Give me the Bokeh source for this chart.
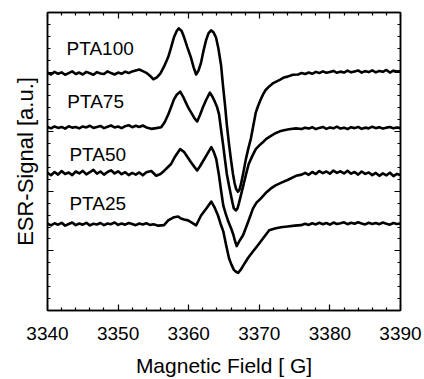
from bokeh.plotting import figure
from bokeh.models import Label, LinearAxis, FixedTicker, Range1d, Title
from bokeh.embed import file_html
from bokeh.resources import INLINE

# ---------------- data ----------------
field_pta100 = [3340.0, 3340.5, 3341.0, 3341.5, 3342.0, 3342.5, 3343.0, 3343.5, 3344.0, 3344.5,
                3345.0, 3345.5, 3346.0, 3346.5, 3347.0, 3347.5, 3348.0, 3348.5, 3349.0, 3349.5,
                3350.0, 3350.5, 3351.0, 3351.5, 3352.0, 3352.5, 3353.0, 3353.5, 3354.0, 3354.5,
                3355.0, 3355.5, 3356.0, 3356.5, 3357.1, 3357.5, 3357.9, 3358.3, 3358.6, 3359.0,
                3359.35, 3359.8, 3360.3, 3360.7, 3361.05, 3361.4, 3361.75, 3362.1, 3362.46, 3362.8,
                3363.16, 3363.5, 3363.87, 3364.2, 3364.58, 3364.85, 3365.14, 3365.4, 3365.71, 3366.0,
                3366.27, 3366.5, 3366.7, 3366.98, 3367.2, 3367.4, 3367.75, 3368.1, 3368.45, 3368.8,
                3369.15, 3369.5, 3369.85, 3370.2, 3370.55, 3370.9, 3371.4, 3371.9, 3372.4, 3372.9,
                3373.5, 3374.0, 3374.75, 3375.5, 3376.0, 3376.5, 3377.0, 3377.5, 3378.0, 3378.5,
                3379.0, 3379.5, 3380.0, 3380.5, 3381.0, 3381.5, 3382.0, 3382.5, 3383.0, 3383.5,
                3384.0, 3384.5, 3385.0, 3385.5, 3386.0, 3386.5, 3387.0, 3387.5, 3388.0, 3388.5,
                3389.0, 3389.5, 3390.0]
signal_pta100 = [19.95, 19.80, 20.02, 19.86, 19.98, 19.78, 19.92, 20.06, 19.84, 19.96,
                 19.80, 20.02, 19.90, 19.78, 20.00, 19.88, 19.84, 20.06, 19.92, 19.80,
                 19.96, 19.86, 20.04, 19.92, 20.06, 20.14, 20.22, 20.08, 19.94, 19.70,
                 19.40, 19.55, 19.90, 20.45, 21.26, 22.05, 22.90, 23.45, 23.67, 23.45,
                 22.92, 22.10, 21.26, 20.40, 19.80, 20.15, 20.80, 21.80, 22.67, 23.25,
                 23.50, 23.35, 22.90, 22.00, 20.60, 18.90, 17.28, 15.60, 13.95, 12.60,
                 11.46, 10.70, 10.22, 9.97, 10.15, 10.60, 11.60, 12.70, 13.60, 14.40,
                 15.50, 16.60, 17.20, 17.70, 18.15, 18.50, 18.80, 19.05, 19.20, 19.35,
                 19.55, 19.62, 19.78, 19.80, 19.92, 19.84, 19.96, 19.86, 20.02, 19.92,
                 20.06, 19.94, 20.00, 20.10, 19.94, 20.04, 19.96, 20.12, 19.98, 20.06,
                 20.14, 19.96, 20.08, 20.00, 20.14, 19.98, 20.10, 20.02, 20.18, 19.96,
                 20.12, 20.04, 20.10]

field_pta75 = [3340.0, 3340.5, 3341.0, 3341.5, 3342.0, 3342.5, 3343.0, 3343.5, 3344.0, 3344.5,
               3345.0, 3345.5, 3346.0, 3346.5, 3347.0, 3347.5, 3348.0, 3348.5, 3349.0, 3349.5,
               3350.0, 3350.5, 3351.0, 3351.5, 3352.0, 3352.5, 3353.0, 3353.5, 3354.0, 3354.7,
               3355.4, 3356.1, 3356.6, 3357.1, 3357.5, 3357.9, 3358.3, 3358.8, 3359.2, 3359.6,
               3360.0, 3360.5, 3360.85, 3361.2, 3361.6, 3362.0, 3362.5, 3363.0, 3363.35, 3363.7,
               3364.0, 3364.3, 3364.6, 3364.9, 3365.15, 3365.4, 3365.7, 3366.0, 3366.2, 3366.4,
               3366.7, 3366.9, 3367.1, 3367.45, 3367.8, 3368.15, 3368.5, 3369.0, 3369.5, 3370.0,
               3370.5, 3371.0, 3371.6, 3372.2, 3372.9, 3373.5, 3374.2, 3375.2, 3376.0, 3376.5,
               3377.0, 3377.5, 3378.0, 3378.5, 3379.0, 3379.5, 3380.0, 3380.5, 3381.0, 3381.5,
               3382.0, 3382.5, 3383.0, 3383.5, 3384.0, 3384.5, 3385.0, 3385.5, 3386.0, 3386.5,
               3387.0, 3387.5, 3388.0, 3388.5, 3389.0, 3389.5, 3390.0]
signal_pta75 = [15.40, 15.28, 15.44, 15.32, 15.40, 15.26, 15.46, 15.34, 15.40, 15.28,
                15.44, 15.36, 15.50, 15.32, 15.40, 15.48, 15.30, 15.42, 15.52, 15.36,
                15.44, 15.30, 15.46, 15.54, 15.38, 15.50, 15.40, 15.52, 15.36, 15.24,
                15.30, 15.37, 15.80, 16.45, 17.05, 17.69, 18.10, 18.36, 17.95, 17.44,
                16.95, 16.45, 16.10, 15.86, 16.40, 17.03, 17.70, 18.27, 17.95, 17.52,
                17.10, 16.45, 15.10, 13.79, 12.60, 11.46, 10.50, 9.63, 9.05, 8.55,
                8.39, 8.55, 8.97, 9.80, 10.63, 11.50, 12.29, 12.95, 13.54, 13.85,
                14.12, 14.40, 14.62, 14.85, 15.03, 15.12, 15.20, 15.28, 15.22, 15.34,
                15.26, 15.38, 15.22, 15.32, 15.40, 15.24, 15.36, 15.28, 15.42, 15.26,
                15.34, 15.22, 15.38, 15.30, 15.40, 15.24, 15.34, 15.28, 15.42, 15.30,
                15.38, 15.26, 15.34, 15.40, 15.28, 15.36, 15.30]

field_pta50 = [3340.0, 3340.5, 3341.0, 3341.5, 3342.0, 3342.5, 3343.0, 3343.5, 3344.0, 3344.5,
               3345.0, 3345.5, 3346.0, 3346.5, 3347.0, 3347.5, 3348.0, 3348.5, 3349.0, 3349.5,
               3350.0, 3350.5, 3351.0, 3351.5, 3352.0, 3352.5, 3353.0, 3353.5, 3354.0, 3354.7,
               3355.4, 3356.0, 3356.5, 3357.0, 3357.5, 3358.1, 3358.8, 3359.35, 3359.8, 3360.3,
               3360.8, 3361.2, 3361.6, 3362.0, 3362.6, 3363.2, 3363.55, 3363.9, 3364.3, 3364.6,
               3364.9, 3365.25, 3365.6, 3366.0, 3366.3, 3366.55, 3366.8, 3367.2, 3367.7, 3368.4,
               3369.1, 3369.6, 3370.2, 3370.9, 3371.6, 3372.3, 3373.05, 3374.0, 3375.2, 3376.0,
               3376.5, 3377.0, 3377.5, 3378.0, 3378.5, 3379.0, 3379.5, 3380.0, 3380.5, 3381.0,
               3381.5, 3382.0, 3382.5, 3383.0, 3383.5, 3384.0, 3384.5, 3385.0, 3385.5, 3386.0,
               3386.5, 3387.0, 3387.5, 3388.0, 3388.5, 3389.0, 3389.5, 3390.0]
signal_pta50 = [11.55, 11.35, 11.62, 11.40, 11.70, 11.45, 11.58, 11.36, 11.66, 11.50,
                11.72, 11.42, 11.60, 11.80, 11.48, 11.66, 11.40, 11.62, 11.76, 11.50,
                11.68, 11.44, 11.60, 11.36, 11.54, 11.40, 11.58, 11.34, 11.60, 11.70,
                11.30, 11.45, 11.71, 12.00, 12.29, 12.95, 13.54, 13.29, 12.90, 12.46,
                12.05, 11.75, 12.10, 12.50, 13.10, 13.70, 13.30, 12.71, 11.30, 10.00,
                8.80, 8.10, 7.48, 6.90, 6.40, 5.85, 5.40, 5.85, 6.31, 7.40,
                8.55, 9.05, 9.39, 9.85, 10.22, 10.50, 10.71, 10.95, 11.30, 11.40,
                11.55, 11.38, 11.62, 11.45, 11.70, 11.52, 11.66, 11.48, 11.74, 11.55,
                11.68, 11.50, 11.72, 11.48, 11.62, 11.40, 11.66, 11.46, 11.58, 11.36,
                11.54, 11.30, 11.50, 11.34, 11.56, 11.28, 11.46, 11.36]

field_pta25 = [3340.0, 3340.5, 3341.0, 3341.5, 3342.0, 3342.5, 3343.0, 3343.5, 3344.0, 3344.5,
               3345.0, 3345.5, 3346.0, 3346.5, 3347.0, 3347.5, 3348.0, 3348.5, 3349.0, 3349.5,
               3350.0, 3350.5, 3351.0, 3351.5, 3352.0, 3352.5, 3353.0, 3353.5, 3354.0, 3354.5,
               3355.0, 3355.7, 3356.5, 3357.1, 3357.8, 3358.5, 3358.9, 3359.35, 3359.9, 3360.5,
               3361.05, 3361.4, 3361.75, 3362.5, 3363.2, 3363.7, 3364.15, 3364.5, 3364.9, 3365.3,
               3365.7, 3366.05, 3366.4, 3366.7, 3367.0, 3367.35, 3367.7, 3368.4, 3369.1, 3369.8,
               3370.6, 3371.4, 3372.2, 3373.05, 3374.0, 3375.0, 3375.9, 3376.5, 3377.0, 3377.5,
               3378.0, 3378.5, 3379.0, 3379.5, 3380.0, 3380.5, 3381.0, 3381.5, 3382.0, 3382.5,
               3383.0, 3383.5, 3384.0, 3384.5, 3385.0, 3385.5, 3386.0, 3386.5, 3387.0, 3387.5,
               3388.0, 3388.5, 3389.0, 3389.5, 3390.0]
signal_pta25 = [7.28, 7.14, 7.32, 7.20, 7.36, 7.12, 7.26, 7.38, 7.16, 7.30,
                7.20, 7.36, 7.14, 7.28, 7.22, 7.34, 7.16, 7.30, 7.24, 7.38,
                7.18, 7.30, 7.20, 7.34, 7.26, 7.16, 7.30, 7.22, 7.32, 7.18,
                7.24, 7.12, 7.16, 7.56, 7.80, 7.89, 7.72, 7.64, 7.56, 7.35,
                7.14, 7.55, 7.97, 8.55, 9.14, 8.60, 7.97, 7.30, 6.64, 5.50,
                4.40, 3.85, 3.41, 3.25, 3.16, 3.40, 3.74, 4.40, 4.95, 5.48,
                6.10, 6.73, 6.88, 6.98, 7.05, 7.12, 7.16, 7.28, 7.18, 7.32,
                7.22, 7.36, 7.24, 7.34, 7.20, 7.38, 7.26, 7.32, 7.40, 7.24,
                7.36, 7.28, 7.40, 7.30, 7.22, 7.36, 7.26, 7.34, 7.24, 7.38,
                7.28, 7.20, 7.34, 7.26, 7.30]

sample_names = ["PTA100", "PTA75", "PTA50", "PTA25"]
name_field = [3342.7, 3342.8, 3343.1, 3343.1]
name_signal = [21.97, 17.52, 13.12, 8.97]

x_major_ticks = [3340, 3350, 3360, 3370, 3380, 3390]
x_minor_ticks = [3342, 3344, 3346, 3348, 3352, 3354, 3356, 3358, 3362, 3364, 3366, 3368,
                 3372, 3374, 3376, 3378, 3382, 3384, 3386, 3388]
y_major_ticks = [0, 5, 10, 15, 20, 25]
y_minor_ticks = [1, 2, 3, 4, 6, 7, 8, 9, 11, 12, 13, 14, 16, 17, 18, 19, 21, 22, 23, 24]

x_title = "Magnetic Field [ G]"
y_title = "ESR-Signal [a.u.]"

FONT = "Liberation Sans"

# ---------------- figure ----------------
p = figure(width=424, height=379, output_backend="svg", toolbar_location=None,
           x_range=Range1d(3340, 3390), y_range=Range1d(0, 25),
           min_border_left=46, min_border_right=24, min_border_top=12, min_border_bottom=66,
           background_fill_color="white", border_fill_color="white")
p.xgrid.visible = False
p.ygrid.visible = False
p.outline_line_color = "black"
p.outline_line_width = 1.5


def style_axis(ax, ticks, minors, show_labels):
    ax.ticker = FixedTicker(ticks=ticks, minor_ticks=minors)
    ax.axis_line_color = "black"
    ax.axis_line_width = 1.5
    ax.major_tick_in = 6
    ax.major_tick_out = 0
    ax.minor_tick_in = 3
    ax.minor_tick_out = 0
    ax.major_tick_line_color = "black"
    ax.minor_tick_line_color = "black"
    ax.major_tick_line_width = 1.2
    ax.minor_tick_line_width = 1.2
    if show_labels:
        ax.major_label_text_font = FONT
        ax.major_label_text_font_size = "19px"
        ax.major_label_text_color = "black"
        ax.major_label_standoff = 16
    else:
        ax.major_label_overrides = {t: "" for t in ticks}
        ax.major_label_standoff = 0
    ax.axis_label_text_font = FONT
    ax.axis_label_text_font_style = "normal"
    ax.axis_label_text_color = "black"


style_axis(p.xaxis[0], x_major_ticks, x_minor_ticks, True)
style_axis(p.yaxis[0], y_major_ticks, y_minor_ticks, False)
p.xaxis[0].axis_label = x_title
p.xaxis[0].axis_label_text_font_size = "21px"
p.xaxis[0].axis_label_standoff = 11

top_axis = LinearAxis()
style_axis(top_axis, x_major_ticks, x_minor_ticks, False)
p.add_layout(top_axis, "above")
right_axis = LinearAxis()
style_axis(right_axis, y_major_ticks, y_minor_ticks, False)
p.add_layout(right_axis, "right")

# y-axis title, shifted upward like in the reference
y_label = Title(text=y_title, align="center", offset=21, standoff=20,
                text_font=FONT, text_font_size="22px", text_font_style="normal",
                text_color="black")
p.add_layout(y_label, "left")

# ---------------- curves ----------------
for fx, sy in [(field_pta100, signal_pta100), (field_pta75, signal_pta75),
               (field_pta50, signal_pta50), (field_pta25, signal_pta25)]:
    p.line(fx, sy, line_color="black", line_width=2.6, line_join="round")

for name, fx, sy in zip(sample_names, name_field, name_signal):
    p.add_layout(Label(x=fx, y=sy, text=name, text_font=FONT, text_font_size="19px",
                       text_color="black", text_align="left", text_baseline="middle"))

open("out.html", "w").write(file_html(p, INLINE))
